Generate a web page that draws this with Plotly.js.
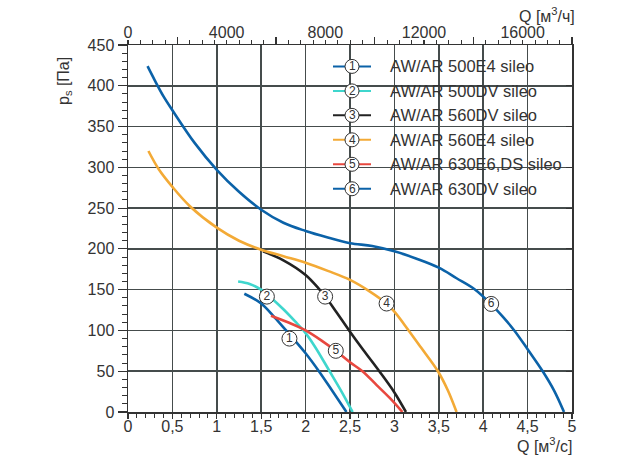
<!DOCTYPE html>
<html>
<head>
<meta charset="utf-8">
<script src="https://cdn.plot.ly/plotly-3.0.1.min.js"></script>
<style>html,body{margin:0;padding:0;background:#fff;}#chart{width:621px;height:462px;}</style>
</head>
<body>
<div id="chart"></div>
<script>
// ---- data ----
const seriesNames = ['AW/AR 500E4 sileo','AW/AR 500DV sileo','AW/AR 560DV sileo','AW/AR 560E4 sileo','AW/AR 630E6,DS sileo','AW/AR 630DV sileo'];
const seriesNums = ['1','2','3','4','5','6'];
const seriesColors = ['#0b62a8','#3fd6cd','#222222','#f3aa36','#e8483f','#0b62a8'];

const q1 = [1.31,1.5,1.65,1.78,1.9,2.0,2.15,2.3,2.46];
const p1 = [145,133,116,100,85,72,50,26,0];
const q2 = [1.24,1.37,1.5,1.6,1.75,1.9,1.976,2.1,2.27,2.4,2.53];
const p2 = [160,157,150,141,126,109,100,81,50,26,0];
const q3 = [1.52,1.75,2.0,2.15,2.22,2.35,2.49,2.65,2.83,3.0,3.13];
const p3 = [197,186,168,151,142,122,100,76,50,24,0];
const q4 = [0.23,0.35,0.5,0.7,1.0,1.25,1.5,1.75,2.0,2.25,2.5,2.72,2.91,3.0,3.16,3.3,3.49,3.6,3.7];
const p4 = [320,297,276,252,226,210,199,191,183,173,162,148,133,123,100,79,50,27,0];
const q5 = [1.61,1.8,2.0,2.2,2.34,2.5,2.64,2.8,2.95,3.09];
const p5 = [118,110,100,86,75,61,50,33,17,0];
const q6 = [0.22,0.3,0.4,0.5,0.75,1.0,1.25,1.5,1.75,2.0,2.25,2.5,2.75,3.0,3.25,3.5,3.7,3.91,4.09,4.22,4.35,4.5,4.67,4.8,4.91];
const p6 = [424,407,387,370,330,297,270,248,232,222,214,207,203.5,197,188,177,164,150,132,117,100,77,50,26,0];

const labelQ = [1.818,1.564,2.22,2.912,2.34,4.09];
const labelP = [90,141.5,141.5,133,75,132.5];

const xTickVals = [0,0.5,1,1.5,2,2.5,3,3.5,4,4.5,5];
const xTickText = ['0','0,5','1','1,5','2','2,5','3','3,5','4','4,5','5'];
const x2TickVals = [0,4000,8000,12000,16000];
const x2TickText = ['0','4000','8000','12000','16000'];
const x3TickVals = [2000,6000,10000,14000,18000];
const yTickVals = [0,50,100,150,200,250,300,350,400,450];

// ---- layout helpers ----
const L = 128, T = 45, W = 444, H = 366.7;
const px2x = px => (px - L) / W;
const py2y = py => (T + H - py) / H;
const FONT = 'Liberation Sans, Arial, sans-serif';
const TXT = '#333333';

const Q = [q1,q2,q3,q4,q5,q6];
const P = [p1,p2,p3,p4,p5,p6];

const traces = Q.map((q,i) => ({
  x: q, y: P[i], type: 'scatter', mode: 'lines',
  line: {color: seriesColors[i], width: 2.6, shape: 'spline', smoothing: 1},
  name: seriesNames[i], showlegend: false, hoverinfo: 'skip'
}));
traces.push({
  x: labelQ, y: labelP, text: seriesNums, type: 'scatter', mode: 'markers+text',
  marker: {symbol: 'circle', size: 15, color: '#ffffff', line: {color: '#333333', width: 1}},
  textposition: 'middle center', textfont: {family: FONT, size: 12, color: TXT},
  showlegend: false, hoverinfo: 'skip'
});
traces.push({x: [], y: [], xaxis: 'x2', yaxis: 'y', type: 'scatter', showlegend: false, hoverinfo: 'skip'});
traces.push({x: [], y: [], xaxis: 'x3', yaxis: 'y', type: 'scatter', showlegend: false, hoverinfo: 'skip'});
traces.push({x: [], y: [], xaxis: 'x', yaxis: 'y2', type: 'scatter', showlegend: false, hoverinfo: 'skip'});

const shapes = [];
const annotations = [];
// legend background box
shapes.push({type: 'rect', xref: 'paper', yref: 'paper', layer: 'between',
  x0: px2x(325), x1: px2x(570), y0: py2y(202), y1: py2y(50),
  fillcolor: '#ffffff', line: {width: 0}});
seriesNames.forEach((nm, i) => {
  const yy = py2y(66.4 + i * 24.45);
  shapes.push({type: 'line', xref: 'paper', yref: 'paper', x0: px2x(333), x1: px2x(371), y0: yy, y1: yy,
    line: {color: seriesColors[i], width: 2}});
  shapes.push({type: 'circle', xref: 'paper', yref: 'paper', xsizemode: 'pixel', ysizemode: 'pixel',
    xanchor: px2x(352), yanchor: yy, x0: -7, x1: 7, y0: -7, y1: 7,
    fillcolor: '#ffffff', line: {color: '#333333', width: 1}});
  annotations.push({xref: 'paper', yref: 'paper', x: px2x(352), y: yy, text: seriesNums[i],
    showarrow: false, xanchor: 'center', yanchor: 'middle', font: {family: FONT, size: 12, color: TXT}});
  annotations.push({xref: 'paper', yref: 'paper', x: px2x(388), y: yy, text: nm,
    showarrow: false, xanchor: 'left', yanchor: 'middle', font: {family: FONT, size: 16.5, color: TXT}});
});
annotations.push({xref: 'paper', yref: 'paper', x: px2x(64), y: py2y(81), text: 'p<sub>s</sub> [Па]',
  textangle: -90, showarrow: false, xanchor: 'center', yanchor: 'middle', font: {family: FONT, size: 16, color: TXT}});
annotations.push({xref: 'paper', yref: 'paper', x: px2x(574), y: py2y(445), text: 'Q [м<sup>3</sup>/с]',
  showarrow: false, xanchor: 'right', yanchor: 'middle', font: {family: FONT, size: 16, color: TXT}});
annotations.push({xref: 'paper', yref: 'paper', x: px2x(577), y: py2y(15), text: 'Q [м<sup>3</sup>/ч]',
  showarrow: false, xanchor: 'right', yanchor: 'middle', font: {family: FONT, size: 16, color: TXT}});

const GRID = '#454c4c';
const AX = '#333333';
const layout = {
  width: 621, height: 462,
  margin: {l: L, r: 621 - L - W, t: T, b: 462 - T - H, pad: 0},
  paper_bgcolor: '#ffffff', plot_bgcolor: '#ffffff',
  font: {family: FONT, size: 16, color: TXT},
  showlegend: false,
  xaxis: {range: [0, 5], tickvals: xTickVals, ticktext: xTickText, showgrid: true, gridcolor: GRID, gridwidth: 1.5,
    zeroline: false, showline: true, linecolor: AX, linewidth: 1.5, ticks: 'outside', ticklen: 5, tickcolor: AX, tickwidth: 1.2,
    ticklabelstandoff: -6,
    minor: {dtick: 0.1, ticks: 'outside', ticklen: 4, tickcolor: AX, tickwidth: 1, showgrid: false},
    tickfont: {family: FONT, size: 16, color: TXT}, fixedrange: true},
  xaxis2: {range: [0, 18000], overlaying: 'x', side: 'top', anchor: 'y', tickvals: x2TickVals, ticktext: x2TickText,
    showgrid: false, zeroline: false, showline: true, linecolor: AX, linewidth: 1.5, ticks: 'outside', ticklen: 4,
    tickcolor: AX, tickwidth: 1.2, ticklabelstandoff: -5,
    minor: {dtick: 500, ticks: 'outside', ticklen: 4, tickcolor: AX, tickwidth: 1, showgrid: false},
    tickfont: {family: FONT, size: 16, color: TXT}, fixedrange: true},
  xaxis3: {range: [0, 18000], overlaying: 'x', side: 'top', anchor: 'y', tickvals: x3TickVals, showticklabels: false,
    showgrid: false, zeroline: false, showline: false, ticks: 'outside', ticklen: 7,
    tickcolor: AX, tickwidth: 1.2, fixedrange: true},
  yaxis: {range: [0, 450], tickvals: yTickVals, showgrid: true, gridcolor: GRID, gridwidth: 1.5, zeroline: false,
    showline: true, linecolor: AX, linewidth: 1.5, ticks: 'outside', ticklen: 9, tickcolor: AX, tickwidth: 1.2,
    minor: {dtick: 10, ticks: 'outside', ticklen: 5, tickcolor: AX, tickwidth: 1, showgrid: false},
    tickfont: {family: FONT, size: 16, color: TXT}, fixedrange: true},
  yaxis2: {range: [0, 450], overlaying: 'y', side: 'right', anchor: 'x', tickvals: yTickVals, showticklabels: false,
    showgrid: false, zeroline: false, showline: true, linecolor: AX, linewidth: 1.5, ticks: 'inside', ticklen: 6,
    tickcolor: AX, tickwidth: 1.2, fixedrange: true},
  shapes: shapes,
  annotations: annotations
};
Plotly.newPlot('chart', traces, layout, {displayModeBar: false, staticPlot: true});
</script>
</body>
</html>
